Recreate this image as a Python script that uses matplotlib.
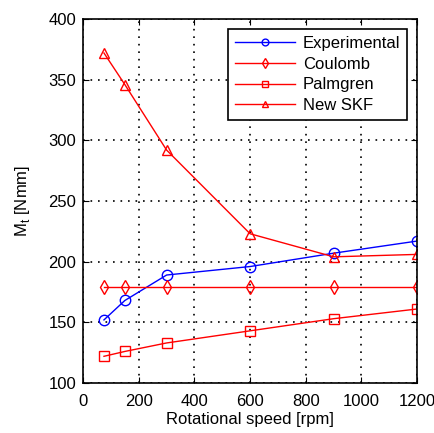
import numpy as np
import matplotlib
matplotlib.use("Agg")
import matplotlib.pyplot as plt

plt.rcParams["font.family"] = ["Liberation Sans", "DejaVu Sans"]

# ── data ────────────────────────────────────────────────────────
speed = [75, 150, 300, 600, 900, 1200]
experimental = [152, 168, 189, 196, 207, 217]
coulomb = [179, 179, 179, 179, 179, 179]
palmgren = [122, 126, 133, 143, 153, 161]
new_skf = [372, 346, 292, 223, 204, 206]

fs = 12

fig = plt.figure(figsize=(4.35, 4.33), dpi=100)
ax = fig.add_axes([0.191, 0.1155, 0.768, 0.8405])

mk = dict(markersize=7.5, markerfacecolor="none", lw=1.0)
ax.plot(speed, experimental, "-o", color="blue", label="Experimental", **mk)
ax.plot(speed, coulomb, "-d", color="red", label="Coulomb", **mk)
ax.plot(speed, palmgren, "-s", color="red", label="Palmgren", **mk)
ax.plot(speed, new_skf, "-^", color="red", label="New SKF", **mk)

ax.set_xlim(0, 1200)
ax.set_ylim(100, 400)
ax.set_xticks(np.arange(0, 1201, 200))
ax.set_yticks(np.arange(100, 401, 50))
ax.grid(True, color="black", linestyle=(0, (1, 3.5)), linewidth=1.2)
ax.tick_params(direction="in", labelsize=fs, top=True, right=True,
               length=4, width=0.8)
ax.tick_params(axis="x", pad=8)
ax.tick_params(axis="y", pad=5)
for sp in ax.spines.values():
    sp.set_linewidth(1.2)

ax.set_xlabel("Rotational speed [rpm]", fontsize=fs, labelpad=2)
ax.set_ylabel("M$_\\mathregular{t}$ [Nmm]", fontsize=fs, labelpad=12)

leg = ax.legend(loc="upper right", fontsize=fs, fancybox=False,
                framealpha=1, edgecolor="black", handlelength=3.6,
                borderaxespad=0.6, labelspacing=0.35, handletextpad=0.5,
                markerscale=0.65, borderpad=0.4)
leg.get_frame().set_linewidth(1.2)

fig.savefig("out.png", dpi=100)
